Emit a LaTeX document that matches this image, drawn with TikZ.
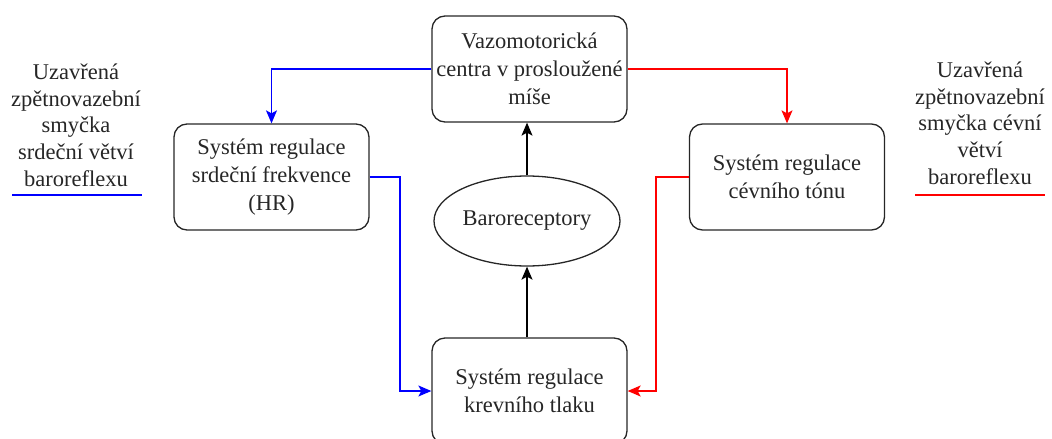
\documentclass[tikz,border=0pt]{standalone}
\usepackage{fontspec}
\setmainfont{Liberation Serif}
\usetikzlibrary{arrows.meta,shapes.geometric}
\begin{document}
\begin{tikzpicture}[x=1pt,y=-1pt,
  txt/.style={font=\fontsize{22.5}{28}\selectfont, align=center, text=black!85},
  side/.style={font=\fontsize{22.5}{26.7}\selectfont, align=center, text=black!85, inner sep=0pt},
  box/.style={txt, draw=black!85, rounded corners=13pt, line width=1.3pt, minimum width=195pt, minimum height=106pt, inner sep=0pt},
  oval/.style={txt, draw=black!85, ellipse, line width=1.3pt, minimum width=186pt, minimum height=90pt, inner sep=0pt},
  arr/.style={line width=1.2pt, -{Stealth[length=13pt,width=11pt,inset=3pt]}},
  blueline/.style={arr, draw=blue},
  redline/.style={arr, draw=red},
  blackline/.style={arr, draw=black}]
\useasboundingbox (0,0) rectangle (1052,439);
\node[box] (vaz) at (529.5,69) {Vazomotorická\\centra v prosloužené\\míše};
\node[box] (hr) at (271.5,177) {Systém regulace\\srdeční frekvence\\(HR)};
\node[box] (cev) at (787,177) {Systém regulace\\cévního tónu};
\node[oval] (baro) at (527,221) {Baroreceptory};
\node[box] (tlak) at (529.5,391) {Systém regulace\\krevního tlaku};
\node[side] (lt) at (76,125) {Uzavřená\\zpětnovazební\\smyčka\\srdeční větví\\baroreflexu};
\node[side] (rt) at (980,123) {Uzavřená\\zpětnovazební\\smyčka cévní\\větví\\baroreflexu};
\coordinate (lu1) at (12,195); \coordinate (lu2) at (142,195);
\coordinate (ru1) at (915,195); \coordinate (ru2) at (1045,195);
\draw[blue, line width=1.3pt] (lu1) -- (lu2);
\draw[red, line width=1.3pt] (ru1) -- (ru2);
\draw[blueline] (vaz.west) -| (hr.north);
\draw[redline] (vaz.east) -| (cev.north);
\draw[blueline] (hr.east) -- (400,177) |- (tlak.west);
\draw[redline] (cev.west) -- (656,177) |- (tlak.east);
\draw[blackline] (tlak.north -| baro.south) -- (baro.south);
\draw[blackline] (baro.north) -- (baro.north |- vaz.south);
\end{tikzpicture}
\end{document}
